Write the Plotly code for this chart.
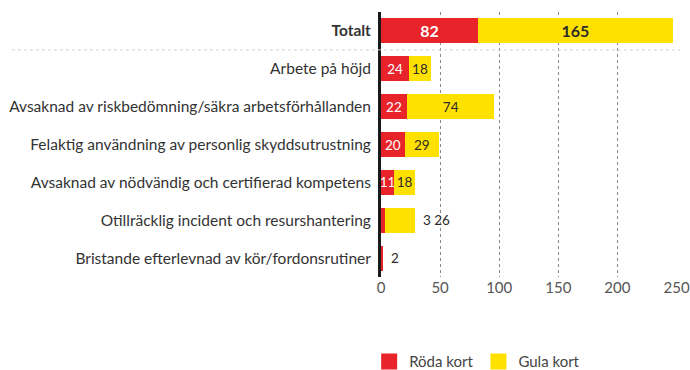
import plotly.graph_objects as go

# Cards issued per category
categories = [
    "Totalt",
    "Arbete på höjd",
    "Avsaknad av riskbedömning/säkra arbetsförhållanden",
    "Felaktig användning av personlig skyddsutrustning",
    "Avsaknad av nödvändig och certifierad kompetens",
    "Otillräcklig incident och resurshantering",
    "Bristande efterlevnad av kör/fordonsrutiner",
]
red_cards = [82, 24, 22, 20, 11, 3, 2]
yellow_cards = [165, 18, 74, 29, 18, 26, 0]
x_ticks = [0, 50, 100, 150, 200, 250]

RED = "#E8232A"
YELLOW = "#FFE100"
DARK = "#2b2b2b"
FONT = "Lato"

# Rows whose red segment is too thin get their values written beside the bar
outside = [r < 5 for r in red_cards]
is_total = [c == "Totalt" for c in categories]

y_labels = ["<b>" + c + "</b>" if t else c for c, t in zip(categories, is_total)]

def inside_text(vals):
    out = []
    for v, o, t in zip(vals, outside, is_total):
        if o or v == 0:
            out.append("")
        else:
            out.append(f"<b>{v}</b>" if t else str(v))
    return out

sizes = [16 if t else 13.5 for t in is_total]

fig = go.Figure()
fig.add_bar(
    name="Röda kort", y=y_labels, x=red_cards, orientation="h",
    marker_color=RED, marker_line_width=0, showlegend=False,
    text=inside_text(red_cards), textposition="inside", insidetextanchor="middle",
    textangle=0, constraintext="none",
    textfont=dict(family=FONT, color="white", size=sizes),
)
fig.add_bar(
    name="Gula kort", y=y_labels, x=yellow_cards, orientation="h",
    marker_color=YELLOW, marker_line_width=0, showlegend=False,
    text=inside_text(yellow_cards), textposition="inside", insidetextanchor="middle",
    textangle=0, constraintext="none",
    textfont=dict(family=FONT, color=DARK, size=sizes),
)

# legend entries with larger square swatches
for name, col in [("Röda kort", RED), ("Gula kort", YELLOW)]:
    fig.add_scatter(x=[None], y=[None], mode="markers", name=name,
                    marker=dict(symbol="square", size=16, color=col))

for lab, r, y, o in zip(y_labels, red_cards, yellow_cards, outside):
    if o:
        txt = f"{r} {y}" if y else f"{r}"
        fig.add_annotation(x=r + y, y=lab, text=txt, showarrow=False,
                           xanchor="left", xshift=6,
                           font=dict(family=FONT, size=13.5, color=DARK))

# dotted separator below the total row
fig.add_shape(type="line", xref="paper", yref="y", x0=-1.247, x1=1.01,
              y0=0.5, y1=0.5, line=dict(color="#d0d0d0", width=1, dash="dot"))

fig.update_layout(
    width=690, height=370,
    margin=dict(l=381, r=13, t=12, b=93, autoexpand=False),
    barmode="stack", bargap=0.34,
    plot_bgcolor="white", paper_bgcolor="white",
    font=dict(family=FONT, size=15, color="#333"),
    legend=dict(orientation="h", x=-0.04, xanchor="left", y=-0.32, yanchor="middle",
                font=dict(family=FONT, size=15, color="#444"), traceorder="normal",
                itemwidth=30),
    xaxis=dict(range=[0, 250.4], tickvals=x_ticks, showgrid=True,
               gridcolor="#888", griddash="dot", gridwidth=1,
               zeroline=False, showline=False, ticks="", ticklabeloverflow="allow",
               tickfont=dict(family=FONT, size=15, color="#555")),
    yaxis=dict(autorange="reversed", showline=True, linecolor="#1a1a1a", linewidth=3,
               ticks="", ticklabelstandoff=4, showgrid=False,
               tickfont=dict(family=FONT, size=15.5, color="#333")),
)

fig.write_html("out.html")
